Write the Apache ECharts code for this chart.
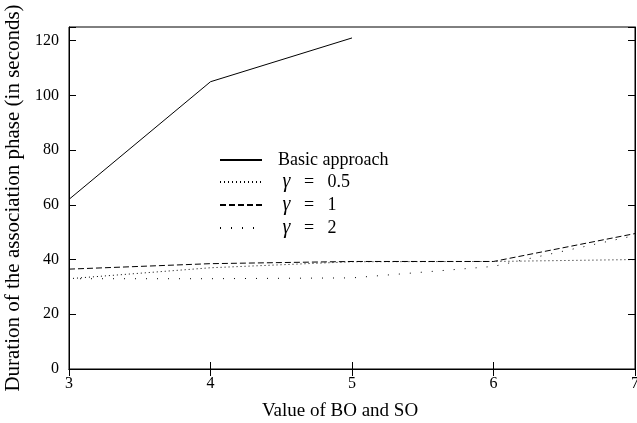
<!DOCTYPE html>
<html><head><meta charset="utf-8">
<script src="https://cdn.jsdelivr.net/npm/echarts@6/dist/echarts.min.js"></script>
<style>html,body{margin:0;padding:0;background:#fff}#c{width:637px;height:423px}</style>
</head><body><div id="c"></div>
<script>
const xBasic = [3, 4, 5];
const basic = [62, 105, 121];
const xGamma = [3, 4, 5, 6, 7];
const gamma05 = [33, 37, 39.2, 39.3, 40];
const gamma1 = [36.5, 38.5, 39.3, 39.3, 49.5];
const gamma2 = [33, 33, 33.3, 37.5, 48.8];
const seriesNames = ['Basic approach', 'γ = 0.5', 'γ = 1', 'γ = 2'];
const yTicks = [0, 20, 40, 60, 80, 100, 120];
const xTicks = [3, 4, 5, 6, 7];

const F = 'Liberation Serif';
const pair = (xs, ys) => xs.map((x, i) => [x, ys[i]]);
const mk = (name, data, type) => ({
  name, type: 'line', data, symbol: 'none', showSymbol: false,
  xAxisIndex: 0, yAxisIndex: 0,
  lineStyle: { color: '#000', width: 1, type },
  itemStyle: { color: '#000' }, silent: true, animation: false
});

const chart = echarts.init(document.getElementById('c'), null, { renderer: 'canvas' });
chart.setOption({
  animation: false,
  backgroundColor: '#fff',
  grid: { left: 69, top: 27, width: 566, height: 342, show: true, borderColor: '#000', borderWidth: 1, containLabel: false, outerBoundsMode: 'none' },
  legend: {
    orient: 'vertical', left: 214, top: 146, itemWidth: 42, itemHeight: 12, itemGap: 3,
    data: seriesNames,
    itemStyle: { opacity: 0 },
    textStyle: {
      fontFamily: F, fontSize: 18, color: '#000', padding: [0, 0, 0, 11],
      rich: { i: { fontFamily: F, fontStyle: 'italic', fontSize: 20, color: '#000' } }
    },
    formatter: n => n.startsWith('γ') ? ' {i|γ}' + n.slice(1).replace(/ /g, '   ') : n
  },
  xAxis: [{
    type: 'value', min: 3, max: 7, interval: 1,
    name: 'Value of BO and SO', nameLocation: 'middle', nameGap: 33,
    nameTextStyle: { fontFamily: F, fontSize: 19, color: '#000', padding: [0, 24, 0, 0] },
    axisLine: { show: true, lineStyle: { color: '#000' } },
    axisTick: { show: true, inside: true, length: 7, lineStyle: { color: '#000' } },
    axisLabel: { fontFamily: F, fontSize: 16, color: '#000', margin: 7,
      formatter: v => xTicks.includes(v) ? String(v) : '' },
    splitLine: { show: false }
  }, {
    type: 'value', min: 3, max: 7, interval: 1, position: 'top',
    axisLine: { show: true, lineStyle: { color: '#000' } },
    axisTick: { show: true, inside: true, length: 7, lineStyle: { color: '#000' } },
    axisLabel: { show: false }, splitLine: { show: false }
  }],
  yAxis: [{
    type: 'value', min: 0, max: 125, interval: 20,
    name: 'Duration of the association phase (in seconds)', nameLocation: 'middle', nameGap: 45,
    nameTextStyle: { fontFamily: F, fontSize: 21, color: '#000' },
    axisLine: { show: true, lineStyle: { color: '#000' } },
    axisTick: { show: true, inside: true, length: 7, lineStyle: { color: '#000' } },
    axisLabel: { fontFamily: F, fontSize: 16, color: '#000', margin: 10, showMaxLabel: true,
      formatter: v => yTicks.includes(v) ? String(v) : '' },
    splitLine: { show: false }
  }, {
    type: 'value', min: 0, max: 125, interval: 20, position: 'right',
    axisLine: { show: true, lineStyle: { color: '#000' } },
    axisTick: { show: true, inside: true, length: 7, lineStyle: { color: '#000' } },
    axisLabel: { show: false }, splitLine: { show: false }
  }],
  series: [
    mk(seriesNames[0], pair(xBasic, basic), 'solid'),
    mk(seriesNames[1], pair(xGamma, gamma05), [1, 3]),
    mk(seriesNames[2], pair(xGamma, gamma1), [6, 3]),
    mk(seriesNames[3], pair(xGamma, gamma2), [1, 10])
  ]
});
</script></body></html>
